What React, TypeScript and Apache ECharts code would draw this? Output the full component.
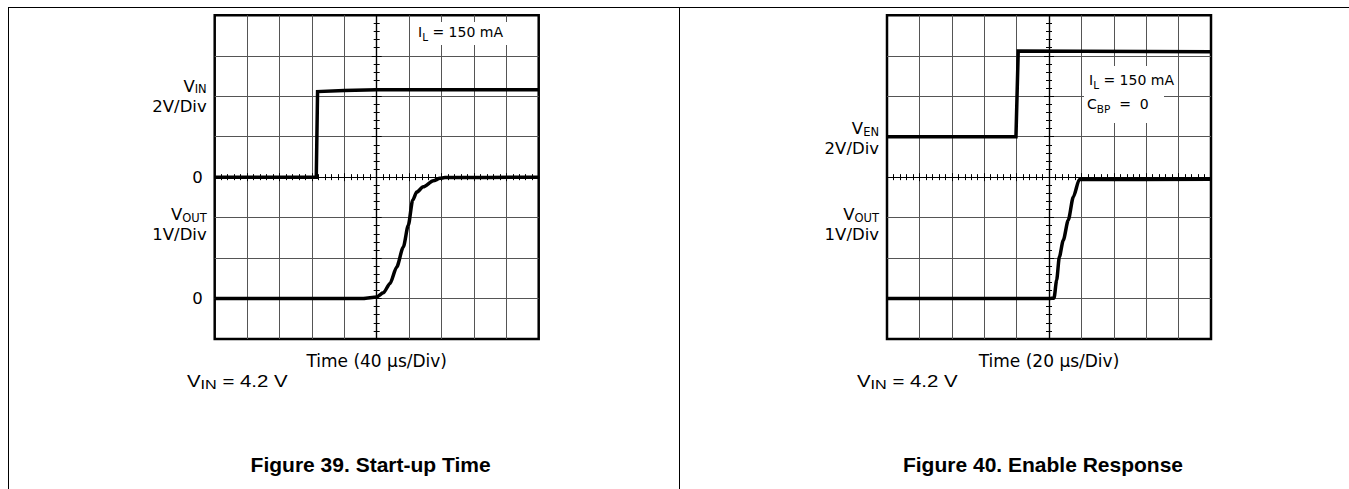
import React, { useEffect, useRef } from "react";
import * as echarts from "echarts";

// ---------------- Figure 39: Start-up Time (time in µs, 0 = screen centre, 40 µs/div)
const fig39TimeRange = [-200, 200];
const fig39TimeStep = 40;
const fig39VinRange = [-8, 8]; // 2 V/div, zero on the centre line
const fig39VinStep = 2;
const fig39VoutRange = [-1, 7]; // 1 V/div
const fig39VoutStep = 1;
const fig39VinT = [-200, -74.6, -73, -40, 0, 200];
const fig39VinV = [0, 0, 4.23, 4.28, 4.32, 4.32];
const fig39VoutT = [-200, -16.5, 0, 8.1, 16.4, 24.7, 32.8, 39, 44.4, 49.4, 57.5, 69.9, 78.1, 84.3, 200];
const fig39VoutV = [0, 0, 0.04, 0.14, 0.37, 0.78, 1.27, 1.81, 2.43, 2.63, 2.76, 2.91, 2.97, 2.99, 3.0];

// ---------------- Figure 40: Enable Response (20 µs/div)
const fig40TimeRange = [-100, 100];
const fig40TimeStep = 20;
const fig40VenRange = [-10, 6]; // 2 V/div, zero one division above centre
const fig40VenStep = 2;
const fig40VoutRange = [-1, 7];
const fig40VoutStep = 1;
const fig40VenT = [-100, -20.4, -19, 100];
const fig40VenV = [0, 0, 4.23, 4.2];
const fig40VoutT = [-100, 0.2, 3.1, 4.7, 6.4, 8.8, 11.9, 15.0, 18.7, 100];
const fig40VoutV = [0, 0, 0.01, 0.45, 1.03, 1.44, 1.94, 2.51, 2.94, 2.95];

// graticule centre-axis tick range (divisions, zero at screen centre)
const centreDivRange = [-4, 4];

// texts
const fig39TimeLabel = "Time (40 \u03bcs/Div)";
const fig40TimeLabel = "Time (20 \u03bcs/Div)";
const fig39Title = "Figure 39. Start-up Time";
const fig40Title = "Figure 40. Enable Response";

const SCOPE_FONT = "DejaVu Sans";
const ARIAL = "Liberation Sans";

const axisRich: any = {
  v: { fontFamily: SCOPE_FONT, fontSize: 16.5, color: "#000", lineHeight: 20 },
  s: { fontFamily: SCOPE_FONT, fontSize: 11.5, color: "#000", padding: [6, 0, 0, 0] },
  d: { fontFamily: SCOPE_FONT, fontSize: 16.5, color: "#000", lineHeight: 20 },
  z: { fontFamily: SCOPE_FONT, fontSize: 16.5, color: "#000", lineHeight: 20, padding: [0, 4, 0, 0] },
  sp: { fontFamily: SCOPE_FONT, fontSize: 4, lineHeight: 14 },
  sp4: { fontFamily: SCOPE_FONT, fontSize: 4, lineHeight: 4 },
};

const GRID_LINE = { color: "#555", width: 1 };
const TRACE = { color: "#000", width: 3.5, join: "miter" as const };

function zip(t: number[], v: number[]) {
  return t.map((x, i) => [x, v[i]]);
}

type PanelCfg = {
  grid: { left: number; top: number; width: number; height: number };
  tRange: number[];
  tStep: number;
  timeLabel: string;
  upperRange: number[];
  upperStep: number;
  upperFmt: (v: number) => string;
  lowerRange: number[];
  lowerStep: number;
  lowerFmt: (v: number) => string;
  upper: number[][];
  lower: number[][];
};

function buildOption() {
  const grids: any[] = [];
  const xAxes: any[] = [];
  const yAxes: any[] = [];
  const series: any[] = [];

  const addPanel = (p: PanelCfg) => {
    const gi = grids.length;
    grids.push({
      ...p.grid,
      show: true,
      borderColor: "#000",
      borderWidth: 2.5,
      backgroundColor: "transparent",
    });
    const xMain = xAxes.length;
    const yUpper = yAxes.length;
    const yLower = yUpper + 1;
    const yTickIn = yUpper + 2;

    xAxes.push({
      gridIndex: gi,
      type: "value",
      min: p.tRange[0],
      max: p.tRange[1],
      interval: p.tStep,
      position: "bottom",
      axisLine: { show: false, onZero: false },
      axisTick: { show: false },
      axisLabel: { show: false },
      splitLine: { show: true, showMinLine: false, showMaxLine: false, lineStyle: GRID_LINE },
      name: p.timeLabel,
      nameLocation: "middle",
      nameGap: 13,
      nameTextStyle: { fontFamily: SCOPE_FONT, fontSize: 17, color: "#000" },
    });
    const tickX = (inside: boolean) => ({
      gridIndex: gi,
      type: "value",
      min: p.tRange[0],
      max: p.tRange[1],
      interval: p.tStep,
      position: "bottom",
      axisLine: { show: true, onZero: true, onZeroAxisIndex: yTickIn, lineStyle: { color: "#000", width: 1.2 } },
      axisTick: { show: true, inside, length: 4, lineStyle: { color: "#000", width: 1 } },
      minorTick: { show: true, splitNumber: 5, length: 3, lineStyle: { color: "#000", width: 1 } },
      axisLabel: { show: false },
      splitLine: { show: false },
    });
    xAxes.push(tickX(true));
    xAxes.push(tickX(false));

    yAxes.push({
      gridIndex: gi,
      type: "value",
      min: p.upperRange[0],
      max: p.upperRange[1],
      interval: p.upperStep,
      position: "left",
      axisLine: { show: false, onZero: false },
      axisTick: { show: false },
      axisLabel: { show: true, margin: 8, formatter: p.upperFmt, rich: axisRich },
      splitLine: { show: true, showMinLine: false, showMaxLine: false, lineStyle: GRID_LINE },
    });
    yAxes.push({
      gridIndex: gi,
      type: "value",
      min: p.lowerRange[0],
      max: p.lowerRange[1],
      interval: p.lowerStep,
      position: "left",
      axisLine: { show: false, onZero: false },
      axisTick: { show: false },
      axisLabel: { show: true, margin: 8, formatter: p.lowerFmt, rich: axisRich },
      splitLine: { show: false },
    });
    const tickY = (inside: boolean) => ({
      gridIndex: gi,
      type: "value",
      min: centreDivRange[0],
      max: centreDivRange[1],
      interval: 1,
      position: "left",
      axisLine: { show: true, onZero: true, onZeroAxisIndex: xMain, lineStyle: { color: "#000", width: 1.2 } },
      axisTick: { show: true, inside, length: 5, lineStyle: { color: "#000", width: 1 } },
      minorTick: { show: true, splitNumber: 5, length: 3, lineStyle: { color: "#000", width: 1 } },
      axisLabel: { show: false },
      splitLine: { show: false },
    });
    yAxes.push(tickY(true));
    yAxes.push(tickY(false));

    series.push({
      type: "line",
      xAxisIndex: xMain,
      yAxisIndex: yUpper,
      data: p.upper,
      symbol: "none",
      showSymbol: false,
      lineStyle: TRACE,
      silent: true,
      z: 5,
    });
    series.push({
      type: "line",
      xAxisIndex: xMain,
      yAxisIndex: yLower,
      data: p.lower,
      symbol: "none",
      showSymbol: false,
      smooth: 0.25,
      smoothMonotone: "x",
      lineStyle: TRACE,
      silent: true,
      z: 5,
    });
  };

  addPanel({
    grid: { left: 214.7, top: 15.3, width: 324, height: 323.7 },
    tRange: fig39TimeRange,
    tStep: fig39TimeStep,
    timeLabel: fig39TimeLabel,
    upperRange: fig39VinRange,
    upperStep: fig39VinStep,
    upperFmt: (v: number) => (v === 4 ? "{v|V}{s|IN}\n{d|2V/Div}" : v === 0 ? "{z|0}" : ""),
    lowerRange: fig39VoutRange,
    lowerStep: fig39VoutStep,
    lowerFmt: (v: number) =>
      v === 2 ? "{sp| }\n{v|V}{s|OUT}\n{d|1V/Div}" : v === 0 ? "{z|0}" : "",
    upper: zip(fig39VinT, fig39VinV),
    lower: zip(fig39VoutT, fig39VoutV),
  });

  addPanel({
    grid: { left: 887, top: 15.3, width: 324, height: 323.7 },
    tRange: fig40TimeRange,
    tStep: fig40TimeStep,
    timeLabel: fig40TimeLabel,
    upperRange: fig40VenRange,
    upperStep: fig40VenStep,
    upperFmt: (v: number) => (v === 0 ? "{sp4| }\n{v|V}{s|EN}\n{d|2V/Div}" : ""),
    lowerRange: fig40VoutRange,
    lowerStep: fig40VoutStep,
    lowerFmt: (v: number) => (v === 2 ? "{sp| }\n{v|V}{s|OUT}\n{d|1V/Div}" : ""),
    upper: zip(fig40VenT, fig40VenV),
    lower: zip(fig40VoutT, fig40VoutV),
  });

  const annRich: any = {
    m: { fontFamily: SCOPE_FONT, fontSize: 14, fill: "#000", lineHeight: 18 },
    s: { fontFamily: SCOPE_FONT, fontSize: 10.5, fill: "#000", padding: [9, 0, 0, 0] },
  };
  const footRich: any = {
    v: { fontFamily: ARIAL, fontSize: 17, fill: "#000", lineHeight: 20 },
    s: { fontFamily: ARIAL, fontSize: 13.5, fill: "#000", padding: [7, 0, 0, 0] },
  };

  const frame = { stroke: "#000", lineWidth: 1 };
  const elements: any[] = [
    { type: "line", z: 100, shape: { x1: 8, y1: 7.5, x2: 1349, y2: 7.5 }, style: frame },
    { type: "line", z: 100, shape: { x1: 8.5, y1: 7, x2: 8.5, y2: 489 }, style: frame },
    { type: "line", z: 100, shape: { x1: 679.5, y1: 7, x2: 679.5, y2: 489 }, style: frame },
    // annotation boxes
    { type: "rect", z: 100, shape: { x: 413, y: 22, width: 98, height: 23 }, style: { fill: "#fff" } },
    {
      type: "text",
      z: 101,
      x: 418,
      y: 32,
      style: { text: "{m|I}{s|L}{m| = 150 mA}", rich: annRich, align: "left", verticalAlign: "middle" },
    },
    { type: "rect", z: 100, shape: { x: 1084, y: 66, width: 80, height: 57 }, style: { fill: "#fff" } },
    {
      type: "text",
      z: 101,
      x: 1089,
      y: 80,
      style: { text: "{m|I}{s|L}{m| = 150 mA}", rich: annRich, align: "left", verticalAlign: "middle" },
    },
    {
      type: "text",
      z: 101,
      x: 1087,
      y: 104,
      style: { text: "{m|C}{s|BP}{m|  =  0}", rich: annRich, align: "left", verticalAlign: "middle" },
    },
    // footnotes
    {
      type: "text",
      z: 101,
      x: 187,
      y: 381,
      scaleX: 1.2,
      style: { text: "{v|V}{s|IN}{v| = 4.2 V}", rich: footRich, align: "left", verticalAlign: "middle" },
    },
    {
      type: "text",
      z: 101,
      x: 857,
      y: 381,
      scaleX: 1.2,
      style: { text: "{v|V}{s|IN}{v| = 4.2 V}", rich: footRich, align: "left", verticalAlign: "middle" },
    },
    // figure titles
    {
      type: "text",
      z: 101,
      x: 370.6,
      y: 464.5,
      style: {
        text: fig39Title,
        fontFamily: ARIAL,
        fontSize: 21,
        fontWeight: "bold",
        fill: "#000",
        align: "center",
        verticalAlign: "middle",
      },
    },
    {
      type: "text",
      z: 101,
      x: 1043,
      y: 464.5,
      style: {
        text: fig40Title,
        fontFamily: ARIAL,
        fontSize: 21,
        fontWeight: "bold",
        fill: "#000",
        align: "center",
        verticalAlign: "middle",
      },
    },
  ];

  return {
    animation: false,
    backgroundColor: "#fff",
    grid: grids,
    xAxis: xAxes,
    yAxis: yAxes,
    series,
    graphic: { elements },
  };
}

export default function App() {
  const ref = useRef<HTMLDivElement>(null);
  useEffect(() => {
    const chart = echarts.init(ref.current as HTMLDivElement, null, { renderer: "svg" });
    chart.setOption(buildOption() as any);
    return () => chart.dispose();
  }, []);
  return (
    <div
      ref={ref}
      style={{ position: "absolute", left: 0, top: 0, width: 1349, height: 489, background: "#fff" }}
    />
  );
}
